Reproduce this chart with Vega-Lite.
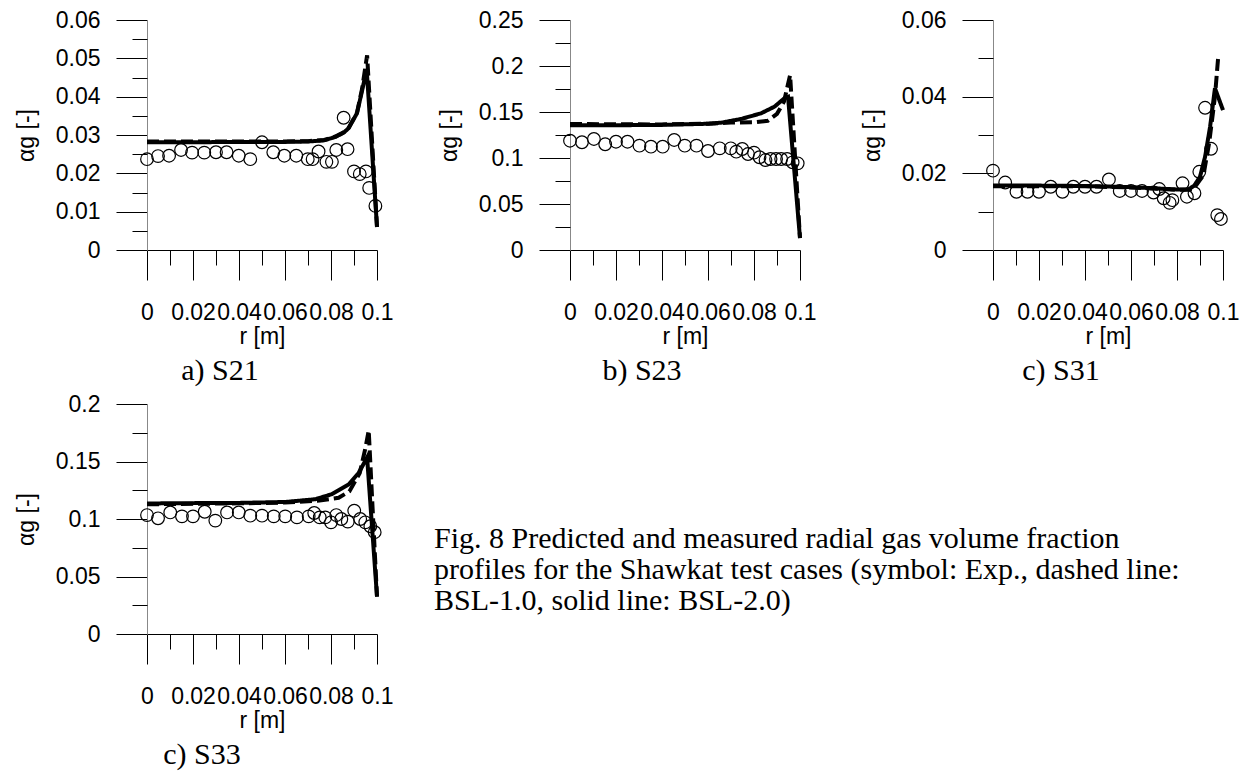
{
"$schema": "https://vega.github.io/schema/vega-lite/v6.json",
"padding": {"left": 15, "top": 9, "right": 5, "bottom": 5},
"background": "white",
"config": {"view": {"stroke": null}, "font": "Liberation Sans"},
"datasets": {
"exp": [
{"c":"S21","r":0,"a":0.0237},{"c":"S21","r":0.0048,"a":0.0245},{"c":"S21","r":0.0096,"a":0.0246},{"c":"S21","r":0.0148,"a":0.0261},{"c":"S21","r":0.0196,"a":0.0254},{"c":"S21","r":0.0249,"a":0.0254},{"c":"S21","r":0.030,"a":0.0255},{"c":"S21","r":0.0346,"a":0.0255},{"c":"S21","r":0.0399,"a":0.0246},{"c":"S21","r":0.0449,"a":0.0237},{"c":"S21","r":0.050,"a":0.0281},{"c":"S21","r":0.0549,"a":0.0255},{"c":"S21","r":0.0597,"a":0.0246},{"c":"S21","r":0.0649,"a":0.0246},{"c":"S21","r":0.0699,"a":0.0237},{"c":"S21","r":0.072,"a":0.0237},{"c":"S21","r":0.0746,"a":0.0257},{"c":"S21","r":0.078,"a":0.023},{"c":"S21","r":0.0804,"a":0.023},{"c":"S21","r":0.0823,"a":0.0261},{"c":"S21","r":0.0855,"a":0.0345},{"c":"S21","r":0.0872,"a":0.0263},{"c":"S21","r":0.090,"a":0.0205},{"c":"S21","r":0.0925,"a":0.0198},{"c":"S21","r":0.0952,"a":0.0205},{"c":"S21","r":0.0966,"a":0.0162},{"c":"S21","r":0.0993,"a":0.0115},
{"c":"S23","r":0,"a":0.1188},{"c":"S23","r":0.0052,"a":0.1171},{"c":"S23","r":0.0104,"a":0.1207},{"c":"S23","r":0.0153,"a":0.1149},{"c":"S23","r":0.020,"a":0.1177},{"c":"S23","r":0.025,"a":0.1177},{"c":"S23","r":0.0302,"a":0.1134},{"c":"S23","r":0.0352,"a":0.1123},{"c":"S23","r":0.0403,"a":0.1123},{"c":"S23","r":0.0453,"a":0.1196},{"c":"S23","r":0.0499,"a":0.1134},{"c":"S23","r":0.055,"a":0.1134},{"c":"S23","r":0.060,"a":0.1076},{"c":"S23","r":0.0651,"a":0.1105},{"c":"S23","r":0.0699,"a":0.1105},{"c":"S23","r":0.0723,"a":0.1069},{"c":"S23","r":0.0749,"a":0.1098},{"c":"S23","r":0.0774,"a":0.1043},{"c":"S23","r":0.080,"a":0.1058},{"c":"S23","r":0.0824,"a":0.1008},{"c":"S23","r":0.085,"a":0.0978},{"c":"S23","r":0.0872,"a":0.0989},{"c":"S23","r":0.0896,"a":0.0989},{"c":"S23","r":0.0918,"a":0.0989},{"c":"S23","r":0.0944,"a":0.0989},{"c":"S23","r":0.0968,"a":0.0953},{"c":"S23","r":0.099,"a":0.0942},
{"c":"S31","r":0,"a":0.0207},{"c":"S31","r":0.0053,"a":0.0176},{"c":"S31","r":0.0102,"a":0.0152},{"c":"S31","r":0.015,"a":0.0152},{"c":"S31","r":0.020,"a":0.0152},{"c":"S31","r":0.0251,"a":0.0165},{"c":"S31","r":0.0302,"a":0.0152},{"c":"S31","r":0.0349,"a":0.0165},{"c":"S31","r":0.040,"a":0.0165},{"c":"S31","r":0.045,"a":0.0165},{"c":"S31","r":0.0504,"a":0.0184},{"c":"S31","r":0.0551,"a":0.0154},{"c":"S31","r":0.060,"a":0.0154},{"c":"S31","r":0.0648,"a":0.0154},{"c":"S31","r":0.0698,"a":0.015},{"c":"S31","r":0.0723,"a":0.0159},{"c":"S31","r":0.0742,"a":0.0135},{"c":"S31","r":0.0768,"a":0.0123},{"c":"S31","r":0.078,"a":0.013},{"c":"S31","r":0.0824,"a":0.0174},{"c":"S31","r":0.0843,"a":0.0139},{"c":"S31","r":0.0876,"a":0.0148},{"c":"S31","r":0.0897,"a":0.0204},{"c":"S31","r":0.0922,"a":0.0371},{"c":"S31","r":0.0948,"a":0.0264},{"c":"S31","r":0.0975,"a":0.0091},{"c":"S31","r":0.0991,"a":0.0081},
{"c":"S33","r":0,"a":0.1034},{"c":"S33","r":0.0048,"a":0.1006},{"c":"S33","r":0.0101,"a":0.1057},{"c":"S33","r":0.0152,"a":0.1023},{"c":"S33","r":0.020,"a":0.1023},{"c":"S33","r":0.0251,"a":0.1063},{"c":"S33","r":0.0297,"a":0.0986},{"c":"S33","r":0.0348,"a":0.1057},{"c":"S33","r":0.0399,"a":0.1057},{"c":"S33","r":0.0449,"a":0.1029},{"c":"S33","r":0.050,"a":0.1029},{"c":"S33","r":0.0551,"a":0.1023},{"c":"S33","r":0.0601,"a":0.1023},{"c":"S33","r":0.0652,"a":0.1014},{"c":"S33","r":0.0703,"a":0.1023},{"c":"S33","r":0.0727,"a":0.1052},{"c":"S33","r":0.0751,"a":0.1014},{"c":"S33","r":0.0775,"a":0.1014},{"c":"S33","r":0.080,"a":0.0971},{"c":"S33","r":0.0823,"a":0.1034},{"c":"S33","r":0.0845,"a":0.100},{"c":"S33","r":0.0873,"a":0.0977},{"c":"S33","r":0.0901,"a":0.1072},{"c":"S33","r":0.0927,"a":0.100},{"c":"S33","r":0.0949,"a":0.0971},{"c":"S33","r":0.0971,"a":0.0937},{"c":"S33","r":0.099,"a":0.0885}
],
"sim": [
{"c":"S21","m":"BSL-2.0","r":0,"a":0.0281},{"c":"S21","m":"BSL-2.0","r":0.02,"a":0.0281},{"c":"S21","m":"BSL-2.0","r":0.04,"a":0.0282},{"c":"S21","m":"BSL-2.0","r":0.06,"a":0.0282},{"c":"S21","m":"BSL-2.0","r":0.07,"a":0.0283},{"c":"S21","m":"BSL-2.0","r":0.077,"a":0.0286},{"c":"S21","m":"BSL-2.0","r":0.0819,"a":0.0295},{"c":"S21","m":"BSL-2.0","r":0.0855,"a":0.0306},{"c":"S21","m":"BSL-2.0","r":0.0877,"a":0.0318},{"c":"S21","m":"BSL-2.0","r":0.0913,"a":0.0357},{"c":"S21","m":"BSL-2.0","r":0.0935,"a":0.0415},{"c":"S21","m":"BSL-2.0","r":0.0955,"a":0.0472},{"c":"S21","m":"BSL-2.0","r":0.1,"a":0.006},
{"c":"S21","m":"BSL-1.0","r":0,"a":0.0283},{"c":"S21","m":"BSL-1.0","r":0.02,"a":0.0283},{"c":"S21","m":"BSL-1.0","r":0.04,"a":0.0283},{"c":"S21","m":"BSL-1.0","r":0.06,"a":0.0283},{"c":"S21","m":"BSL-1.0","r":0.07,"a":0.0284},{"c":"S21","m":"BSL-1.0","r":0.077,"a":0.0287},{"c":"S21","m":"BSL-1.0","r":0.0819,"a":0.0296},{"c":"S21","m":"BSL-1.0","r":0.0855,"a":0.0307},{"c":"S21","m":"BSL-1.0","r":0.0877,"a":0.0319},{"c":"S21","m":"BSL-1.0","r":0.0913,"a":0.0358},{"c":"S21","m":"BSL-1.0","r":0.0935,"a":0.042},{"c":"S21","m":"BSL-1.0","r":0.0957,"a":0.0508},{"c":"S21","m":"BSL-1.0","r":0.1,"a":0.006},
{"c":"S23","m":"BSL-2.0","r":0,"a":0.1355},{"c":"S23","m":"BSL-2.0","r":0.02,"a":0.1356},{"c":"S23","m":"BSL-2.0","r":0.04,"a":0.136},{"c":"S23","m":"BSL-2.0","r":0.06,"a":0.1372},{"c":"S23","m":"BSL-2.0","r":0.066,"a":0.1385},{"c":"S23","m":"BSL-2.0","r":0.0745,"a":0.1425},{"c":"S23","m":"BSL-2.0","r":0.0831,"a":0.1486},{"c":"S23","m":"BSL-2.0","r":0.0889,"a":0.1558},{"c":"S23","m":"BSL-2.0","r":0.0932,"a":0.1649},{"c":"S23","m":"BSL-2.0","r":0.0948,"a":0.1665},{"c":"S23","m":"BSL-2.0","r":0.1,"a":0.013},
{"c":"S23","m":"BSL-1.0","r":0,"a":0.137},{"c":"S23","m":"BSL-1.0","r":0.02,"a":0.1366},{"c":"S23","m":"BSL-1.0","r":0.04,"a":0.1365},{"c":"S23","m":"BSL-1.0","r":0.06,"a":0.1372},{"c":"S23","m":"BSL-1.0","r":0.07,"a":0.1385},{"c":"S23","m":"BSL-1.0","r":0.081,"a":0.139},{"c":"S23","m":"BSL-1.0","r":0.086,"a":0.1405},{"c":"S23","m":"BSL-1.0","r":0.09,"a":0.148},{"c":"S23","m":"BSL-1.0","r":0.093,"a":0.161},{"c":"S23","m":"BSL-1.0","r":0.0957,"a":0.19},{"c":"S23","m":"BSL-1.0","r":0.1,"a":0.013},
{"c":"S31","m":"BSL-2.0","r":0,"a":0.0168},{"c":"S31","m":"BSL-2.0","r":0.02,"a":0.0168},{"c":"S31","m":"BSL-2.0","r":0.04,"a":0.0167},{"c":"S31","m":"BSL-2.0","r":0.06,"a":0.0164},{"c":"S31","m":"BSL-2.0","r":0.08,"a":0.0158},{"c":"S31","m":"BSL-2.0","r":0.085,"a":0.0158},{"c":"S31","m":"BSL-2.0","r":0.0875,"a":0.0168},{"c":"S31","m":"BSL-2.0","r":0.09,"a":0.0191},{"c":"S31","m":"BSL-2.0","r":0.0922,"a":0.0243},{"c":"S31","m":"BSL-2.0","r":0.0944,"a":0.0322},{"c":"S31","m":"BSL-2.0","r":0.0965,"a":0.0422},{"c":"S31","m":"BSL-2.0","r":0.1,"a":0.0365},
{"c":"S31","m":"BSL-1.0","r":0,"a":0.0166},{"c":"S31","m":"BSL-1.0","r":0.02,"a":0.0166},{"c":"S31","m":"BSL-1.0","r":0.04,"a":0.0166},{"c":"S31","m":"BSL-1.0","r":0.06,"a":0.0163},{"c":"S31","m":"BSL-1.0","r":0.08,"a":0.0157},{"c":"S31","m":"BSL-1.0","r":0.087,"a":0.0158},{"c":"S31","m":"BSL-1.0","r":0.0915,"a":0.0195},{"c":"S31","m":"BSL-1.0","r":0.094,"a":0.028},{"c":"S31","m":"BSL-1.0","r":0.0965,"a":0.04},{"c":"S31","m":"BSL-1.0","r":0.098,"a":0.051},
{"c":"S33","m":"BSL-2.0","r":0,"a":0.1135},{"c":"S33","m":"BSL-2.0","r":0.02,"a":0.1138},{"c":"S33","m":"BSL-2.0","r":0.04,"a":0.114},{"c":"S33","m":"BSL-2.0","r":0.06,"a":0.1148},{"c":"S33","m":"BSL-2.0","r":0.0732,"a":0.1172},{"c":"S33","m":"BSL-2.0","r":0.0804,"a":0.1216},{"c":"S33","m":"BSL-2.0","r":0.0877,"a":0.130},{"c":"S33","m":"BSL-2.0","r":0.092,"a":0.140},{"c":"S33","m":"BSL-2.0","r":0.0957,"a":0.1535},{"c":"S33","m":"BSL-2.0","r":0.1,"a":0.0325},
{"c":"S33","m":"BSL-1.0","r":0,"a":0.1128},{"c":"S33","m":"BSL-1.0","r":0.02,"a":0.1132},{"c":"S33","m":"BSL-1.0","r":0.04,"a":0.1136},{"c":"S33","m":"BSL-1.0","r":0.06,"a":0.1143},{"c":"S33","m":"BSL-1.0","r":0.075,"a":0.116},{"c":"S33","m":"BSL-1.0","r":0.0833,"a":0.1185},{"c":"S33","m":"BSL-1.0","r":0.088,"a":0.124},{"c":"S33","m":"BSL-1.0","r":0.0925,"a":0.140},{"c":"S33","m":"BSL-1.0","r":0.095,"a":0.162},{"c":"S33","m":"BSL-1.0","r":0.0964,"a":0.177},{"c":"S33","m":"BSL-1.0","r":0.1,"a":0.0325}
]
},
"vconcat": [
{"hconcat": [
{"width": 230, "height": 230,
 "title": {"text": "a) S21", "orient": "bottom", "font": "Liberation Serif", "fontSize": 30, "fontWeight": "normal", "color": "black", "offset": 8, "dx": -42},
 "resolve": {"axis": {"x": "independent", "y": "independent"}},
 "layer": [
  {"data": {"name": "exp"}, "transform": [{"filter": "datum.c == 'S21'"}],
   "mark": {"type": "point", "shape": "circle", "filled": false, "stroke": "black", "strokeWidth": 1.2, "size": 160, "opacity": 1},
   "encoding": {
    "x": {"field": "r", "type": "quantitative", "scale": {"domain": [0, 0.1], "nice": false, "zero": false},
      "axis": {"orient": "bottom", "values": [0, 0.02, 0.04, 0.06, 0.08, 0.1], "format": "~g", "tickSize": 30, "tickColor": "black", "domainColor": "black", "labelPadding": 21, "labelFont": "Liberation Sans", "labelFontSize": 23, "labelColor": "black", "labelOverlap": false, "labelFlush": false, "labelBound": false, "grid": false, "title": "r [m]", "titleFont": "Liberation Sans", "titleFontSize": 23, "titleFontWeight": "normal", "titleColor": "black", "titlePadding": 1}},
    "y": {"field": "a", "type": "quantitative", "scale": {"domain": [0, 0.06], "nice": false},
      "axis": {"orient": "left", "values": [0, 0.01, 0.02, 0.03, 0.04, 0.05, 0.06], "format": "~g", "tickSize": 31, "tickColor": "black", "domainColor": "#888888", "labelPadding": 16, "labelFont": "Liberation Sans", "labelFontSize": 23, "labelColor": "black", "labelOverlap": false, "labelBound": false, "grid": false, "title": "αg [-]", "titleFont": "Liberation Sans", "titleFontSize": 23, "titleFontWeight": "normal", "titleColor": "black", "titlePadding": 17}}
   }},
  {"data": {"name": "sim"}, "transform": [{"filter": "datum.c == 'S21'"}],
   "mark": {"type": "line", "color": "black", "strokeWidth": 4},
   "encoding": {
    "x": {"field": "r", "type": "quantitative", "scale": {"domain": [0, 0.1], "nice": false, "zero": false},
      "axis": {"orient": "bottom", "values": [0.01, 0.03, 0.05, 0.07, 0.09], "tickSize": 15, "tickColor": "black", "labels": false, "domain": false, "grid": false, "title": null}},
    "y": {"field": "a", "type": "quantitative", "scale": {"domain": [0, 0.06], "nice": false},
      "axis": {"orient": "left", "values": [0.005, 0.015, 0.025, 0.035, 0.045, 0.055], "tickSize": 15, "tickColor": "black", "labels": false, "domain": false, "grid": false, "title": null}},
    "strokeDash": {"field": "m", "type": "nominal", "scale": {"domain": ["BSL-1.0", "BSL-2.0"], "range": [[12, 5], [1, 0]]}, "legend": null}
   }}
 ]},
{"width": 230, "height": 230,
 "title": {"text": "b) S23", "orient": "bottom", "font": "Liberation Serif", "fontSize": 30, "fontWeight": "normal", "color": "black", "offset": 8, "dx": -43},
 "resolve": {"axis": {"x": "independent", "y": "independent"}},
 "layer": [
  {"data": {"name": "exp"}, "transform": [{"filter": "datum.c == 'S23'"}],
   "mark": {"type": "point", "shape": "circle", "filled": false, "stroke": "black", "strokeWidth": 1.2, "size": 160, "opacity": 1},
   "encoding": {
    "x": {"field": "r", "type": "quantitative", "scale": {"domain": [0, 0.1], "nice": false, "zero": false},
      "axis": {"orient": "bottom", "values": [0, 0.02, 0.04, 0.06, 0.08, 0.1], "format": "~g", "tickSize": 30, "tickColor": "black", "domainColor": "black", "labelPadding": 21, "labelFont": "Liberation Sans", "labelFontSize": 23, "labelColor": "black", "labelOverlap": false, "labelFlush": false, "labelBound": false, "grid": false, "title": "r [m]", "titleFont": "Liberation Sans", "titleFontSize": 23, "titleFontWeight": "normal", "titleColor": "black", "titlePadding": 1}},
    "y": {"field": "a", "type": "quantitative", "scale": {"domain": [0, 0.25], "nice": false},
      "axis": {"orient": "left", "values": [0, 0.05, 0.1, 0.15, 0.2, 0.25], "format": "~g", "tickSize": 31, "tickColor": "black", "domainColor": "#888888", "labelPadding": 16, "labelFont": "Liberation Sans", "labelFontSize": 23, "labelColor": "black", "labelOverlap": false, "labelBound": false, "grid": false, "title": "αg [-]", "titleFont": "Liberation Sans", "titleFontSize": 23, "titleFontWeight": "normal", "titleColor": "black", "titlePadding": 17}}
   }},
  {"data": {"name": "sim"}, "transform": [{"filter": "datum.c == 'S23'"}],
   "mark": {"type": "line", "color": "black", "strokeWidth": 4},
   "encoding": {
    "x": {"field": "r", "type": "quantitative", "scale": {"domain": [0, 0.1], "nice": false, "zero": false},
      "axis": {"orient": "bottom", "values": [0.01, 0.03, 0.05, 0.07, 0.09], "tickSize": 15, "tickColor": "black", "labels": false, "domain": false, "grid": false, "title": null}},
    "y": {"field": "a", "type": "quantitative", "scale": {"domain": [0, 0.25], "nice": false},
      "axis": {"orient": "left", "values": [0.025, 0.075, 0.125, 0.175, 0.225], "tickSize": 15, "tickColor": "black", "labels": false, "domain": false, "grid": false, "title": null}},
    "strokeDash": {"field": "m", "type": "nominal", "scale": {"domain": ["BSL-1.0", "BSL-2.0"], "range": [[12, 5], [1, 0]]}, "legend": null}
   }}
 ]},
{"width": 230, "height": 230,
 "title": {"text": "c) S31", "orient": "bottom", "font": "Liberation Serif", "fontSize": 30, "fontWeight": "normal", "color": "black", "offset": 8, "dx": -47},
 "resolve": {"axis": {"x": "independent", "y": "independent"}},
 "layer": [
  {"data": {"name": "exp"}, "transform": [{"filter": "datum.c == 'S31'"}],
   "mark": {"type": "point", "shape": "circle", "filled": false, "stroke": "black", "strokeWidth": 1.2, "size": 160, "opacity": 1},
   "encoding": {
    "x": {"field": "r", "type": "quantitative", "scale": {"domain": [0, 0.1], "nice": false, "zero": false},
      "axis": {"orient": "bottom", "values": [0, 0.02, 0.04, 0.06, 0.08, 0.1], "format": "~g", "tickSize": 30, "tickColor": "black", "domainColor": "black", "labelPadding": 21, "labelFont": "Liberation Sans", "labelFontSize": 23, "labelColor": "black", "labelOverlap": false, "labelFlush": false, "labelBound": false, "grid": false, "title": "r [m]", "titleFont": "Liberation Sans", "titleFontSize": 23, "titleFontWeight": "normal", "titleColor": "black", "titlePadding": 1}},
    "y": {"field": "a", "type": "quantitative", "scale": {"domain": [0, 0.06], "nice": false},
      "axis": {"orient": "left", "values": [0, 0.02, 0.04, 0.06], "format": "~g", "tickSize": 31, "tickColor": "black", "domainColor": "#888888", "labelPadding": 16, "labelFont": "Liberation Sans", "labelFontSize": 23, "labelColor": "black", "labelOverlap": false, "labelBound": false, "grid": false, "title": "αg [-]", "titleFont": "Liberation Sans", "titleFontSize": 23, "titleFontWeight": "normal", "titleColor": "black", "titlePadding": 17}}
   }},
  {"data": {"name": "sim"}, "transform": [{"filter": "datum.c == 'S31'"}],
   "mark": {"type": "line", "color": "black", "strokeWidth": 4},
   "encoding": {
    "x": {"field": "r", "type": "quantitative", "scale": {"domain": [0, 0.1], "nice": false, "zero": false},
      "axis": {"orient": "bottom", "values": [0.01, 0.03, 0.05, 0.07, 0.09], "tickSize": 15, "tickColor": "black", "labels": false, "domain": false, "grid": false, "title": null}},
    "y": {"field": "a", "type": "quantitative", "scale": {"domain": [0, 0.06], "nice": false},
      "axis": {"orient": "left", "values": [0.01, 0.03, 0.05], "tickSize": 15, "tickColor": "black", "labels": false, "domain": false, "grid": false, "title": null}},
    "strokeDash": {"field": "m", "type": "nominal", "scale": {"domain": ["BSL-1.0", "BSL-2.0"], "range": [[12, 5], [1, 0]]}, "legend": null}
   }}
 ]}
], "spacing": 193, "bounds": "flush"},
{"hconcat": [
{"width": 230, "height": 230,
 "title": {"text": "c) S33", "orient": "bottom", "font": "Liberation Serif", "fontSize": 30, "fontWeight": "normal", "color": "black", "offset": 8, "dx": -60},
 "resolve": {"axis": {"x": "independent", "y": "independent"}},
 "layer": [
  {"data": {"name": "exp"}, "transform": [{"filter": "datum.c == 'S33'"}],
   "mark": {"type": "point", "shape": "circle", "filled": false, "stroke": "black", "strokeWidth": 1.2, "size": 160, "opacity": 1},
   "encoding": {
    "x": {"field": "r", "type": "quantitative", "scale": {"domain": [0, 0.1], "nice": false, "zero": false},
      "axis": {"orient": "bottom", "values": [0, 0.02, 0.04, 0.06, 0.08, 0.1], "format": "~g", "tickSize": 30, "tickColor": "black", "domainColor": "black", "labelPadding": 21, "labelFont": "Liberation Sans", "labelFontSize": 23, "labelColor": "black", "labelOverlap": false, "labelFlush": false, "labelBound": false, "grid": false, "title": "r [m]", "titleFont": "Liberation Sans", "titleFontSize": 23, "titleFontWeight": "normal", "titleColor": "black", "titlePadding": 1}},
    "y": {"field": "a", "type": "quantitative", "scale": {"domain": [0, 0.2], "nice": false},
      "axis": {"orient": "left", "values": [0, 0.05, 0.1, 0.15, 0.2], "format": "~g", "tickSize": 31, "tickColor": "black", "domainColor": "#888888", "labelPadding": 16, "labelFont": "Liberation Sans", "labelFontSize": 23, "labelColor": "black", "labelOverlap": false, "labelBound": false, "grid": false, "title": "αg [-]", "titleFont": "Liberation Sans", "titleFontSize": 23, "titleFontWeight": "normal", "titleColor": "black", "titlePadding": 17}}
   }},
  {"data": {"name": "sim"}, "transform": [{"filter": "datum.c == 'S33'"}],
   "mark": {"type": "line", "color": "black", "strokeWidth": 4},
   "encoding": {
    "x": {"field": "r", "type": "quantitative", "scale": {"domain": [0, 0.1], "nice": false, "zero": false},
      "axis": {"orient": "bottom", "values": [0.01, 0.03, 0.05, 0.07, 0.09], "tickSize": 15, "tickColor": "black", "labels": false, "domain": false, "grid": false, "title": null}},
    "y": {"field": "a", "type": "quantitative", "scale": {"domain": [0, 0.2], "nice": false},
      "axis": {"orient": "left", "values": [0.025, 0.075, 0.125, 0.175], "tickSize": 15, "tickColor": "black", "labels": false, "domain": false, "grid": false, "title": null}},
    "strokeDash": {"field": "m", "type": "nominal", "scale": {"domain": ["BSL-1.0", "BSL-2.0"], "range": [[12, 5], [1, 0]]}, "legend": null}
   }}
 ]},
{"width": 2, "height": 332,
 "data": {"values": [
   {"line": 1, "text": "Fig. 8 Predicted and measured radial gas volume fraction"},
   {"line": 2, "text": "profiles for the Shawkat test cases (symbol: Exp., dashed line:"},
   {"line": 3, "text": "BSL-1.0, solid line: BSL-2.0)"}
 ]},
 "mark": {"type": "text", "align": "left", "baseline": "middle", "font": "Liberation Serif", "fontSize": 30, "color": "black"},
 "encoding": {
   "y": {"field": "line", "type": "quantitative", "axis": null, "scale": {"domain": [-3.27, 7.27], "reverse": true, "nice": false, "zero": false}},
   "text": {"field": "text"}
 }}
], "spacing": 56, "bounds": "flush"}
],
"spacing": 384,
"bounds": "flush"
}
